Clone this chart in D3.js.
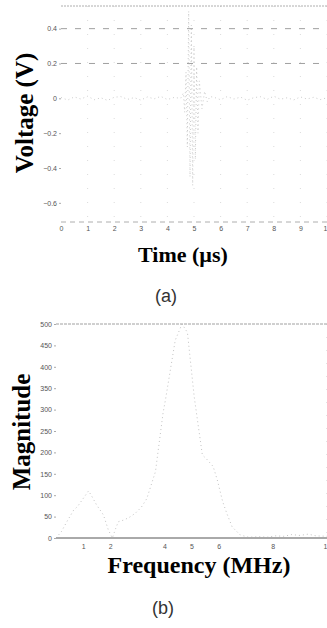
<!DOCTYPE html>
<html>
<head>
<meta charset="utf-8">
<script src="https://cdn.jsdelivr.net/npm/d3@7"></script>
<style>
  html, body { margin: 0; padding: 0; background: #fff; }
  svg { display: block; }
  .tick text { font-family: "Liberation Sans", Arial, sans-serif; font-size: 7px; fill: #555; }
  .title { font-family: "Liberation Serif", "Times New Roman", serif; font-weight: bold; fill: #000; }
  .cap { font-family: "Liberation Sans", Arial, sans-serif; font-size: 18px; fill: #333; }
</style>
</head>
<body>
<div id="chart"></div>
<script>
// (a) time signal
const timeUs = [0, 0.25, 0.5, 0.75, 1, 1.25, 1.5, 1.75, 2, 2.25, 2.5, 2.75, 3, 3.25, 3.5, 3.75, 4, 4.25, 4.5,
  4.6, 4.65, 4.7, 4.75, 4.8, 4.85, 4.9, 4.95, 5, 5.05, 5.1, 5.15, 5.2, 5.3, 5.4, 5.5, 5.6,
  5.75, 6, 6.25, 6.5, 6.75, 7, 7.25, 7.5, 7.75, 8, 8.25, 8.5, 8.75, 9, 9.25, 9.5, 9.75, 10]
const voltage = [0.005, -0.01, 0.008, -0.004, 0.012, -0.008, 0.003, -0.012, 0.006, 0.01, -0.006, 0.004, -0.01, 0.008, -0.003, 0.011, -0.007, 0.005, 0,
  0.03, -0.08, 0.15, -0.28, 0.5, -0.45, 0.42, -0.5, 0.3, -0.35, 0.18, -0.2, 0.1, -0.06, 0.04, -0.02, 0.01,
  0.006, -0.008, 0.01, -0.004, 0.007, -0.011, 0.004, 0.009, -0.006, 0.012, -0.005, 0.003, -0.009, 0.008, -0.004, 0.006, -0.007, 0.003]
const voltTicks = [0.4, 0.2, 0, -0.2, -0.4, -0.6]
const timeTicks = [0, 1, 2, 3, 4, 5, 6, 7, 8, 9, 10]

// (b) spectrum
const freqMHz = [0, 0.2, 0.4, 0.65, 0.8, 1.0, 1.2, 1.3, 1.5, 1.75, 1.93, 2.08, 2.2, 2.3, 2.5, 2.7, 2.93, 3.15, 3.35, 3.67,
  3.95, 4.05, 4.4, 4.65, 4.85, 5.1, 5.4, 5.55, 5.8, 5.95, 6.15, 6.3, 6.5, 6.8, 7.1, 7.5, 7.8, 8.1, 8.4, 8.7, 9.0, 9.3, 9.6, 10]
const magnitude = [0, 15, 38, 65, 74, 92, 110, 100, 77, 54, 19, 0, 22, 38, 42, 48, 58, 72, 92, 155,
  292, 327, 462, 500, 480, 330, 194, 185, 167, 136, 85, 58, 26, 7, 2, 3, 2, 5, 4, 8, 6, 9, 5, 4]
const magTicks = [500, 450, 400, 350, 300, 250, 200, 150, 100, 50, 0]
const freqTicks = [1, 2, 4, 5, 6, 8, 10]

const width = 327
const height = 628

const svg = d3.select('#chart')
  .append('svg')
  .attr('width', width)
  .attr('height', height)

// ---------- panel (a) ----------
const xa = d3.scaleLinear().domain([0, 10]).range([61, 327])
const ya = d3.scaleLinear().domain([-0.71, 0.53]).range([222, 6])

const ga = svg.append('g')

// faint vertical grid
ga.selectAll('.vgrid')
  .data(timeTicks.slice(1))
  .enter()
  .append('line')
  .attr('x1', d => xa(d)).attr('x2', d => xa(d))
  .attr('y1', ya(0.53)).attr('y2', ya(-0.71))
  .attr('stroke', '#ccc')
  .attr('stroke-width', 0.7)
  .attr('stroke-dasharray', '1,13')

// dashed horizontal grid
ga.selectAll('.hgrid')
  .data([0.4, 0.2])
  .enter()
  .append('line')
  .attr('x1', xa(0)).attr('x2', xa(10))
  .attr('y1', d => ya(d)).attr('y2', d => ya(d))
  .attr('stroke', '#888')
  .attr('stroke-width', 0.8)
  .attr('stroke-dasharray', '6,8')

// frame lines
ga.append('line')
  .attr('x1', xa(0)).attr('x2', xa(10))
  .attr('y1', ya(0.53)).attr('y2', ya(0.53))
  .attr('stroke', '#999').attr('stroke-width', 0.8)
  .attr('stroke-dasharray', '2,1')
ga.append('line')
  .attr('x1', xa(0)).attr('x2', xa(10))
  .attr('y1', ya(-0.71)).attr('y2', ya(-0.71))
  .attr('stroke', '#999').attr('stroke-width', 0.8)
  .attr('stroke-dasharray', '5,4')

ga.append('g')
  .attr('transform', `translate(${xa(0)},0)`)
  .call(d3.axisLeft(ya).tickValues(voltTicks).tickSize(2).tickPadding(2)
    .tickFormat(d => d === 0 ? '0' : d3.format('.1f')(d)))
  .call(g => g.select('.domain').remove())
  .call(g => g.selectAll('.tick line').attr('stroke', '#aaa'))

ga.append('g')
  .attr('transform', `translate(0,${ya(-0.71)})`)
  .call(d3.axisBottom(xa).tickValues(timeTicks).tickSize(0).tickPadding(4))
  .call(g => g.select('.domain').remove())

ga.append('path')
  .datum(timeUs.map((t, i) => [t, voltage[i]]))
  .attr('fill', 'none')
  .attr('stroke', '#b4b4b4')
  .attr('stroke-width', 0.7)
  .attr('stroke-dasharray', '1,3')
  .attr('d', d3.line().x(d => xa(d[0])).y(d => ya(d[1])))

svg.append('text')
  .attr('class', 'title')
  .attr('transform', 'translate(33,113) rotate(-90)')
  .attr('text-anchor', 'middle')
  .style('font-size', '25px')
  .text('Voltage (V)')

svg.append('text')
  .attr('class', 'title')
  .attr('x', 183).attr('y', 262)
  .attr('text-anchor', 'middle')
  .style('font-size', '22px')
  .text('Time (\u00b5s)')

svg.append('text')
  .attr('class', 'cap')
  .attr('x', 166).attr('y', 302)
  .attr('text-anchor', 'middle')
  .text('(a)')

// ---------- panel (b) ----------
const xb = d3.scaleLinear().domain([0, 10]).range([56, 327])
const yb = d3.scaleLinear().domain([0, 500]).range([538, 324])

const gb = svg.append('g')

gb.append('line')
  .attr('x1', xb(0)).attr('x2', xb(10))
  .attr('y1', yb(500)).attr('y2', yb(500))
  .attr('stroke', '#888').attr('stroke-width', 0.8)
  .attr('stroke-dasharray', '3,1')
gb.append('line')
  .attr('x1', xb(0)).attr('x2', xb(10))
  .attr('y1', yb(0)).attr('y2', yb(0))
  .attr('stroke', '#555').attr('stroke-width', 1)
gb.append('line')
  .attr('x1', xb(10)).attr('x2', xb(10))
  .attr('y1', yb(500)).attr('y2', yb(0))
  .attr('stroke', '#bbb').attr('stroke-width', 0.8)
  .attr('stroke-dasharray', '1,12')

gb.append('g')
  .attr('transform', `translate(${xb(0)},0)`)
  .call(d3.axisLeft(yb).tickValues(magTicks).tickSize(2).tickPadding(2))
  .call(g => g.select('.domain').remove())
  .call(g => g.selectAll('.tick line').attr('stroke', '#aaa'))

gb.append('g')
  .attr('transform', `translate(0,${yb(0)})`)
  .call(d3.axisBottom(xb).tickValues(freqTicks).tickSize(0).tickPadding(6))
  .call(g => g.select('.domain').remove())

gb.append('path')
  .datum(freqMHz.map((f, i) => [f, magnitude[i]]))
  .attr('fill', 'none')
  .attr('stroke', '#a8a8a8')
  .attr('stroke-width', 0.7)
  .attr('stroke-dasharray', '1,3')
  .attr('d', d3.line().x(d => xb(d[0])).y(d => yb(d[1])))

svg.append('text')
  .attr('class', 'title')
  .attr('transform', 'translate(30,432) rotate(-90)')
  .attr('text-anchor', 'middle')
  .style('font-size', '25px')
  .text('Magnitude')

svg.append('text')
  .attr('class', 'title')
  .attr('x', 199).attr('y', 573)
  .attr('text-anchor', 'middle')
  .style('font-size', '24px')
  .text('Frequency (MHz)')

svg.append('text')
  .attr('class', 'cap')
  .attr('x', 163).attr('y', 614)
  .attr('text-anchor', 'middle')
  .text('(b)')
</script>
</body>
</html>
